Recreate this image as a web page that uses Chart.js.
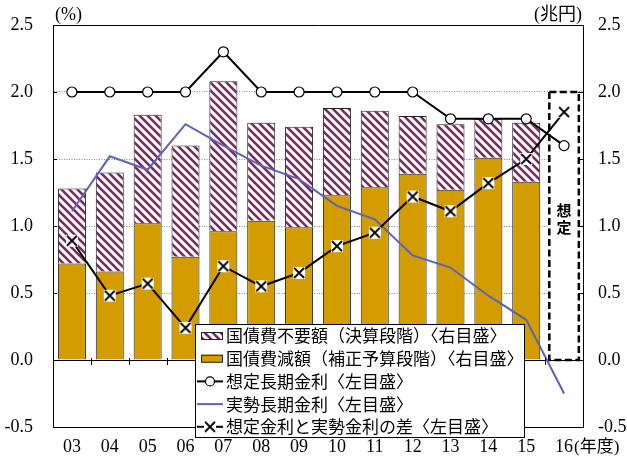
<!DOCTYPE html>
<html lang="ja">
<head>
<meta charset="utf-8">
<title>国債費不要額と長期金利の推移</title>
<script src="https://cdn.jsdelivr.net/npm/chart.js@4/dist/chart.umd.min.js"></script>
<style>
  html, body { margin: 0; padding: 0; background: #fff; }
  #wrap { width: 627px; height: 457px; }
</style>
</head>
<body>
<div id="wrap"><canvas id="chart" width="627" height="457"></canvas></div>
<script>
// 年度（平成）
const fiscalYears = ['03', '04', '05', '06', '07', '08', '09', '10', '11', '12', '13', '14', '15', '16'];

// 兆円（右目盛）
const reducedAmount  = [0.72, 0.66, 1.02, 0.77, 0.96, 1.04, 0.99, 1.23, 1.29, 1.39, 1.27, 1.51, 1.33, null];
const unneededAmount = [0.56, 0.74, 0.81, 0.83, 1.12, 0.73, 0.75, 0.65, 0.57, 0.43, 0.49, 0.29, 0.44, null];

// %（左目盛）
const assumedRate = [2.0, 2.0, 2.0, 2.0, 2.3, 2.0, 2.0, 2.0, 2.0, 2.0, 1.8, 1.8, 1.8, 1.6];
const actualRate  = [1.11, 1.52, 1.42, 1.76, 1.60, 1.45, 1.35, 1.15, 1.05, 0.78, 0.69, 0.48, 0.30, -0.25];
const rateGap     = [0.89, 0.48, 0.57, 0.24, 0.70, 0.55, 0.65, 0.85, 0.95, 1.22, 1.11, 1.32, 1.50, 1.85];

// 想定値の年度と、その枠の範囲（兆円）
const forecastYear  = '16';
const forecastRange = [0, 2.0];

const axisMin = -0.5;
const axisMax = 2.5;
const axisStep = 0.5;

const SERIF = "'Liberation Serif', 'Noto Sans CJK JP', serif";
const JP = "'Noto Sans CJK JP', sans-serif";
const CLEAR = 'rgba(0,0,0,0)';

// 斜線の塗り
function stripePattern() {
  const c = document.createElement('canvas');
  c.width = 8; c.height = 8;
  const g = c.getContext('2d');
  g.fillStyle = '#ffffff';
  g.fillRect(0, 0, 8, 8);
  g.strokeStyle = '#7a2a5c';
  g.lineWidth = 2.6;
  g.beginPath();
  g.moveTo(-2, -2); g.lineTo(10, 10);
  g.moveTo(-2, 6);  g.lineTo(2, 10);
  g.moveTo(6, -2);  g.lineTo(10, 2);
  g.stroke();
  return g.createPattern(c, 'repeat');
}

// ×印（白抜きの四角付き）
function crossMarker() {
  const c = document.createElement('canvas');
  c.width = 14; c.height = 14;
  const g = c.getContext('2d');
  g.fillStyle = '#ffffff';
  g.fillRect(1, 1, 12, 12);
  g.strokeStyle = '#000';
  g.lineWidth = 1.8;
  g.beginPath();
  g.moveTo(2, 2); g.lineTo(12, 12);
  g.moveTo(12, 2); g.lineTo(2, 12);
  g.stroke();
  return c;
}

const hatch = stripePattern();
const crossImg = crossMarker();
const GOLD = '#d39d00';
const BLUE = '#5b63bd';

const isSolidLine = v => Math.abs(v) < 1e-9 || Math.abs(v - axisMax) < 1e-9 || Math.abs(v - axisMin) < 1e-9;

// 想定枠・目盛り・単位
const decorPlugin = {
  id: 'decor',
  beforeDatasetsDraw(chart) {
    const { ctx } = chart;
    const x = chart.scales.x, y2 = chart.scales.y2;
    const cx = x.getPixelForValue(fiscalYears.indexOf(forecastYear));
    const half = x.width / fiscalYears.length * 0.39;
    const top = y2.getPixelForValue(forecastRange[1]);
    const bottom = y2.getPixelForValue(forecastRange[0]);
    ctx.save();
    ctx.fillStyle = '#fff';
    ctx.fillRect(cx - half, top, half * 2, bottom - top);
    ctx.strokeStyle = '#000';
    ctx.lineWidth = 2.5;
    ctx.setLineDash([7, 3.5]);
    ctx.strokeRect(cx - half, top, half * 2, bottom - top);
    ctx.setLineDash([]);
    ctx.fillStyle = '#000';
    ctx.font = "bold 15px " + JP;
    ctx.textAlign = 'center';
    ctx.textBaseline = 'middle';
    ctx.fillText('想', cx, 210);
    ctx.fillText('定', cx, 227);
    ctx.restore();
  },
  afterDatasetsDraw(chart) {
    const { ctx, chartArea } = chart;
    const x = chart.scales.x, y = chart.scales.y, y2 = chart.scales.y2;
    ctx.save();
    ctx.strokeStyle = '#000';
    ctx.lineWidth = 1;
    // 左右の内向き目盛り
    for (let v = axisMin + axisStep; v < axisMax - 1e-9; v += axisStep) {
      const py = Math.round(y.getPixelForValue(v)) + 0.5;
      ctx.beginPath();
      ctx.moveTo(chartArea.left, py); ctx.lineTo(chartArea.left + 4, py);
      ctx.stroke();
      const py2 = Math.round(y2.getPixelForValue(v)) + 0.5;
      ctx.beginPath();
      ctx.moveTo(chartArea.right - 5, py2); ctx.lineTo(chartArea.right, py2);
      ctx.stroke();
    }
    // 0 の線上の年度区切り
    const y0 = y.getPixelForValue(0);
    const step = x.width / fiscalYears.length;
    for (let i = 1; i < fiscalYears.length; i++) {
      const px = Math.round(x.getPixelForValue(i) - step / 2) + 0.5;
      ctx.beginPath();
      ctx.moveTo(px, y0 - 2); ctx.lineTo(px, y0 + 5);
      ctx.stroke();
    }
    ctx.restore();
  },
  afterDraw(chart) {
    const { ctx, chartArea } = chart;
    const x = chart.scales.x;
    ctx.save();
    ctx.fillStyle = '#000';
    ctx.font = "18px " + SERIF;
    ctx.textBaseline = 'middle';
    ctx.textAlign = 'left';
    ctx.fillText('(%)', chartArea.left + 2, 15);
    ctx.textAlign = 'right';
    ctx.fillText('(兆円)', chartArea.right - 1, 15);
    ctx.textAlign = 'left';
    ctx.font = "17px " + SERIF;
    ctx.fillText('(年度)', x.getPixelForValue(fiscalYears.length - 1) + 10, 448);
    ctx.restore();
  }
};

// 枠付きの凡例
const boxLegendPlugin = {
  id: 'boxLegend',
  afterDraw(chart, args, opts) {
    const { ctx } = chart;
    const items = chart.data.datasets.slice().sort((a, b) => a.legendRank - b.legendRank);
    ctx.save();
    ctx.fillStyle = '#fff';
    ctx.fillRect(opts.left, opts.top, opts.width, opts.height);
    ctx.strokeStyle = '#000';
    ctx.lineWidth = 1;
    ctx.strokeRect(opts.left + 0.5, opts.top + 0.5, opts.width - 1, opts.height - 1);
    ctx.font = "17px " + JP;
    ctx.textBaseline = 'middle';
    ctx.textAlign = 'left';
    items.forEach((ds, i) => {
      const cy = opts.top + opts.firstRow + i * opts.rowGap;
      const sx = opts.left + opts.symbolLeft;
      const sw = opts.symbolWidth;
      if (ds.type === 'bar') {
        ctx.fillStyle = ds.backgroundColor;
        ctx.fillRect(sx + 4, cy - 4, sw - 4, 8);
        ctx.strokeStyle = '#222';
        ctx.lineWidth = 1;
        ctx.strokeRect(sx + 4.5, cy - 3.5, sw - 5, 7);
      } else {
        ctx.strokeStyle = ds.borderColor;
        ctx.lineWidth = ds.borderWidth;
        ctx.beginPath();
        ctx.moveTo(sx, cy); ctx.lineTo(sx + sw, cy);
        ctx.stroke();
        const mx = sx + sw / 2;
        if (ds.pointStyle === 'circle' && ds.pointRadius > 0) {
          ctx.fillStyle = '#fff';
          ctx.lineWidth = 1.2;
          ctx.beginPath();
          ctx.arc(mx, cy, 4.5, 0, Math.PI * 2);
          ctx.fill(); ctx.stroke();
        } else if (ds.pointStyle instanceof HTMLCanvasElement) {
          ctx.drawImage(ds.pointStyle, mx - 7, cy - 7);
        }
      }
      ctx.fillStyle = '#000';
      ctx.fillText(ds.label, opts.left + opts.textLeft, cy);
    });
    ctx.restore();
  }
};

new Chart(document.getElementById('chart'), {
  data: {
    labels: fiscalYears,
    datasets: [
      {
        type: 'bar',
        label: '国債費減額（補正予算段階）〈右目盛〉',
        legendRank: 2,
        data: reducedAmount,
        yAxisID: 'y2',
        backgroundColor: GOLD,
        borderColor: '#222',
        borderWidth: 1,
        categoryPercentage: 1,
        barPercentage: 0.74,
        order: 5
      },
      {
        type: 'bar',
        label: '国債費不要額（決算段階）〈右目盛〉',
        legendRank: 1,
        data: unneededAmount,
        yAxisID: 'y2',
        backgroundColor: hatch,
        borderColor: '#222',
        borderWidth: 1,
        categoryPercentage: 1,
        barPercentage: 0.74,
        order: 5
      },
      {
        type: 'line',
        label: '想定長期金利〈左目盛〉',
        legendRank: 3,
        data: assumedRate,
        yAxisID: 'y',
        borderColor: '#000',
        borderWidth: 2,
        pointStyle: 'circle',
        pointRadius: 5,
        pointBorderWidth: 1.2,
        pointBackgroundColor: '#fff',
        pointBorderColor: '#000',
        tension: 0,
        order: 2
      },
      {
        type: 'line',
        label: '実勢長期金利〈左目盛〉',
        legendRank: 4,
        data: actualRate,
        yAxisID: 'y',
        borderColor: BLUE,
        borderWidth: 2,
        pointRadius: 0,
        tension: 0,
        order: 3
      },
      {
        type: 'line',
        label: '想定金利と実勢金利の差〈左目盛〉',
        legendRank: 5,
        data: rateGap,
        yAxisID: 'y',
        borderColor: '#000',
        borderWidth: 2,
        pointStyle: crossImg,
        pointRadius: 7,
        tension: 0,
        order: 1
      }
    ]
  },
  options: {
    responsive: false,
    animation: false,
    devicePixelRatio: 1,
    layout: { autoPadding: false, padding: { top: 25, right: 0, bottom: 0, left: 0 } },
    plugins: {
      legend: { display: false },
      tooltip: { enabled: false },
      boxLegend: {
        left: 195, top: 324, width: 330, height: 114,
        firstRow: 12, rowGap: 22.7,
        symbolLeft: 2, symbolWidth: 26, textLeft: 31
      }
    },
    scales: {
      x: {
        type: 'category',
        stacked: true,
        offset: true,
        grid: { display: false, drawTicks: false },
        border: { display: true, color: '#000', width: 1 },
        ticks: { color: '#000', font: { family: SERIF, size: 18 }, padding: 9, maxRotation: 0, autoSkip: false },
        afterFit(scale) { scale.height = 30; }
      },
      y: {
        position: 'left',
        min: axisMin, max: axisMax,
        stacked: false,
        ticks: {
          stepSize: axisStep,
          color: '#000',
          font: { family: SERIF, size: 18 },
          padding: 4,
          callback: v => Number(v).toFixed(1)
        },
        grid: {
          drawTicks: true,
          tickLength: 16,
          tickColor: CLEAR,
          lineWidth: 1,
          color: ctx => (ctx.tick && isSolidLine(ctx.tick.value)) ? '#000' : '#8a8a8a'
        },
        border: {
          display: true, color: '#000', width: 1,
          dash: ctx => (ctx.tick && !isSolidLine(ctx.tick.value)) ? [1, 1.5] : []
        },
        afterFit(scale) { scale.width = 53; }
      },
      y2: {
        position: 'right',
        min: axisMin, max: axisMax,
        stacked: true,
        ticks: {
          stepSize: axisStep,
          color: '#000',
          font: { family: SERIF, size: 18 },
          padding: 4,
          callback: v => Number(v).toFixed(1)
        },
        grid: { drawOnChartArea: false, drawTicks: true, tickLength: 11, tickColor: CLEAR },
        border: { display: true, color: '#000', width: 1 },
        afterFit(scale) { scale.width = 44; }
      }
    }
  },
  plugins: [decorPlugin, boxLegendPlugin]
});
</script>
</body>
</html>
